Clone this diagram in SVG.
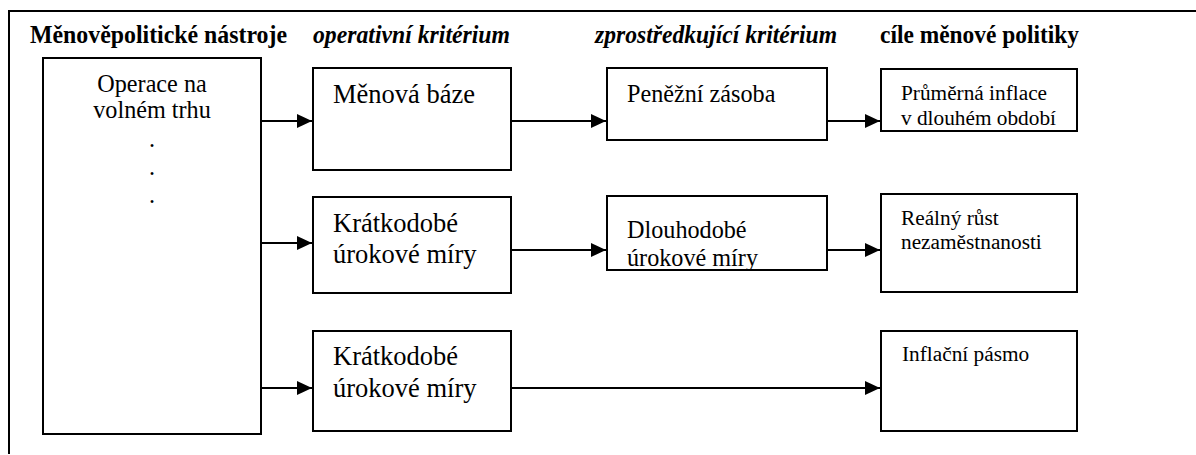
<svg xmlns="http://www.w3.org/2000/svg" width="1196" height="455" viewBox="0 0 1196 455" font-family="'Liberation Serif', 'Times New Roman', serif">
  <defs>
    <marker id="arrow" markerWidth="16" markerHeight="14" refX="15" refY="7" orient="auto" markerUnits="userSpaceOnUse">
      <path d="M0,0 L15,7 L0,14 Z" fill="#000"/>
    </marker>
    <style>
      .hdr { font-family: "Liberation Serif", serif; font-size: 24.2px; font-weight: bold; }
      .hdr-i { font-family: "Liberation Serif", serif; font-size: 24.2px; font-weight: bold; font-style: italic; }
      .box { fill: #fff; stroke: #000; stroke-width: 2; }
      .frame { fill: none; stroke: #000; stroke-width: 2; }
      .t24 { font-family: "Liberation Serif", serif; font-size: 24.2px; }
      .t26 { font-family: "Liberation Serif", serif; font-size: 26.5px; }
      .t21 { font-family: "Liberation Serif", serif; font-size: 21.3px; }
      .conn { fill: none; stroke: #000; stroke-width: 2; marker-end: url(#arrow); }
    </style>
  </defs>
  <rect x="0" y="0" width="1196" height="455" fill="#fff"/>

  <!-- outer frame (top and left edges) -->
  <path class="frame" d="M9,454 L9,11 L1196,11"/>

  <!-- column headings -->
  <g id="headings">
    <text class="hdr" x="30" y="43" textLength="257" lengthAdjust="spacingAndGlyphs">Měnověpolitické nástroje</text>
    <text class="hdr-i" x="313" y="43" textLength="197" lengthAdjust="spacingAndGlyphs">operativní kritérium</text>
    <text class="hdr-i" x="595" y="43" textLength="242" lengthAdjust="spacingAndGlyphs">zprostředkující kritérium</text>
    <text class="hdr" x="880" y="43" textLength="199" lengthAdjust="spacingAndGlyphs">cíle měnové politiky</text>
  </g>

  <!-- instruments -->
  <g id="instruments">
    <rect class="box" x="43" y="58" width="218" height="376"/>
    <text class="t24" x="152" y="92" text-anchor="middle">Operace na</text>
    <text class="t24" x="152" y="118" text-anchor="middle">volném trhu</text>
    <text class="t24" x="152" y="147" text-anchor="middle">.</text>
    <text class="t24" x="152" y="175" text-anchor="middle">.</text>
    <text class="t24" x="152" y="203" text-anchor="middle">.</text>
  </g>

  <!-- row 1 -->
  <g id="menova-baze">
    <rect class="box" x="313" y="68" width="198" height="102"/>
    <text class="t26" x="333" y="103">Měnová báze</text>
  </g>
  <g id="penezni-zasoba">
    <rect class="box" x="607" y="68" width="220" height="72"/>
    <text class="t24" x="627" y="102">Peněžní zásoba</text>
  </g>
  <g id="prumerna-inflace">
    <rect class="box" x="881" y="69" width="196" height="62"/>
    <text class="t21" x="901" y="100">Průměrná inflace</text>
    <text class="t21" x="901" y="125">v dlouhém období</text>
  </g>

  <!-- row 2 -->
  <g id="kratkodobe-1">
    <rect class="box" x="313" y="197" width="198" height="96"/>
    <text class="t26" x="333" y="232">Krátkodobé</text>
    <text class="t26" x="333" y="263">úrokové míry</text>
  </g>
  <g id="dlouhodobe">
    <rect class="box" x="607" y="196" width="220" height="74"/>
    <text class="t24" x="627" y="238">Dlouhodobé</text>
    <text class="t24" x="627" y="266">úrokové míry</text>
  </g>
  <g id="realny-rust">
    <rect class="box" x="881" y="194" width="196" height="98"/>
    <text class="t21" x="901" y="225">Reálný růst</text>
    <text class="t21" x="901" y="249">nezaměstnanosti</text>
  </g>

  <!-- row 3 -->
  <g id="kratkodobe-2">
    <rect class="box" x="313" y="331" width="198" height="100"/>
    <text class="t26" x="333" y="365">Krátkodobé</text>
    <text class="t26" x="333" y="397">úrokové míry</text>
  </g>
  <g id="inflacni-pasmo">
    <rect class="box" x="881" y="331" width="196" height="100"/>
    <text class="t21" x="902" y="361">Inflační pásmo</text>
  </g>

  <!-- connectors -->
  <g id="connectors">
    <line class="conn" x1="262" y1="121" x2="312" y2="121"/>
    <line class="conn" x1="262" y1="243" x2="312" y2="243"/>
    <line class="conn" x1="262" y1="388" x2="312" y2="388"/>
    <line class="conn" x1="512" y1="121" x2="606" y2="121"/>
    <line class="conn" x1="828" y1="121" x2="880" y2="121"/>
    <line class="conn" x1="512" y1="250" x2="606" y2="250"/>
    <line class="conn" x1="828" y1="250" x2="880" y2="250"/>
    <line class="conn" x1="512" y1="388" x2="880" y2="388"/>
  </g>
</svg>
